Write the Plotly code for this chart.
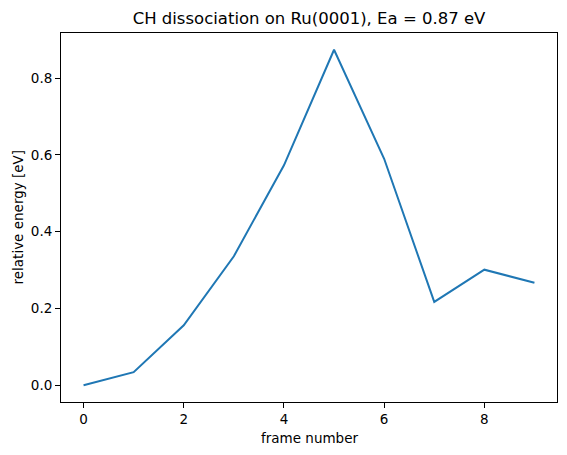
import plotly.graph_objects as go

frames = [0, 1, 2, 3, 4, 5, 6, 7, 8, 9]
energies = [0.0, 0.034, 0.156, 0.336, 0.573, 0.874, 0.590, 0.217, 0.301, 0.267]
ea = 0.87

# the page body has an 8px margin, so the figure is drawn 8px smaller
# and everything is placed 8px up/left of the target pixel
off = 8
W, H = 567 - off, 455 - off
left, right, top, bottom = 61 - off, 557 - off, 33 - off, 402 - off
pw, ph = right - left, bottom - top

fig = go.Figure()
fig.add_trace(go.Scatter(
    x=frames, y=energies, mode='lines',
    line=dict(color='#1f77b4', width=2),
))

axis_style = dict(
    showline=True, linecolor='black', linewidth=1, mirror=True,
    ticks='outside', ticklen=5, tickwidth=1, tickcolor='black',
    showgrid=False, zeroline=False, automargin=False,
    tickfont=dict(size=13.5, color='black'),
)

fig.update_layout(
    width=W, height=H,
    margin=dict(l=left, r=W - right, t=top, b=H - bottom),
    plot_bgcolor='white', paper_bgcolor='white',
    font=dict(family='DejaVu Sans', color='black'),
    showlegend=False,
    title=dict(
        text=f'CH dissociation on Ru(0001), Ea = {ea:.2f} eV',
        x=(left + right) / 2 / W, xanchor='center',
        y=1 - (18 - off) / H, yanchor='middle',
        font=dict(size=16.5),
    ),
    xaxis=dict(axis_style, range=[-0.45, 9.45], tickvals=[0, 2, 4, 6, 8]),
    yaxis=dict(axis_style, range=[-0.0437, 0.9177], tickvals=[0, 0.2, 0.4, 0.6, 0.8],
               tickformat='.1f'),
)

# axis titles placed like matplotlib's
fig.add_annotation(text='frame number', xref='paper', yref='paper',
                   x=0.5, y=-36 / ph, xanchor='center', yanchor='middle',
                   showarrow=False, font=dict(size=13.5))
fig.add_annotation(text='relative energy [eV]', xref='paper', yref='paper',
                   x=-44 / pw, y=0.5, xanchor='center', yanchor='middle',
                   textangle=-90, showarrow=False, font=dict(size=13.5))

fig.write_html('out.html')
